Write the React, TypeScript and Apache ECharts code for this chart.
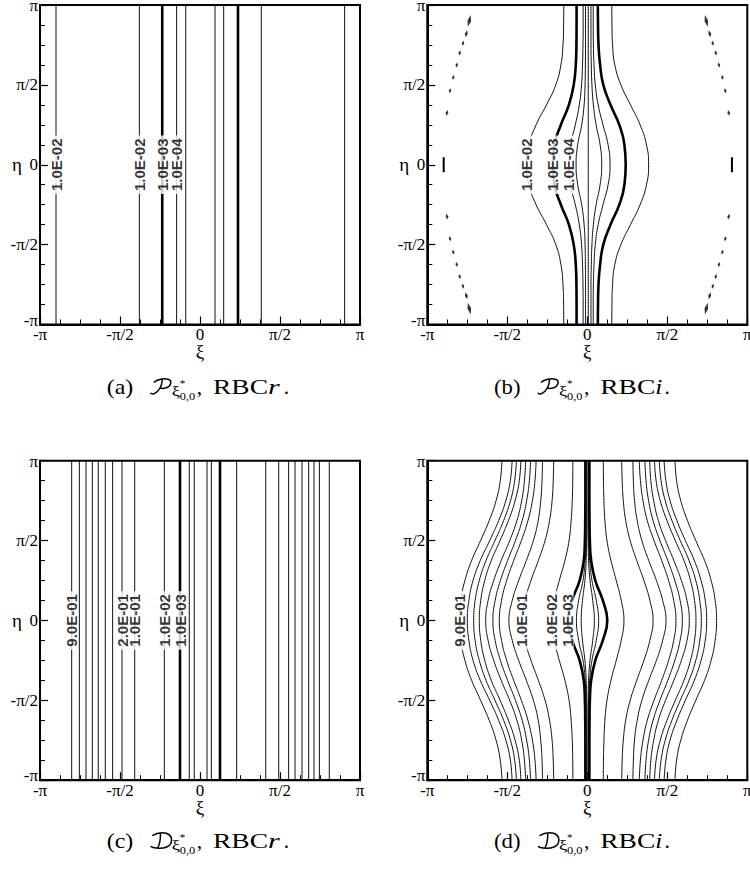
import React, { useEffect, useRef } from "react";
import * as echarts from "echarts";

// Axis ticks, in units of π, and their labels
const TICKS = [-1, -0.5, 0, 0.5, 1];
const TICK_TEXT = ["-π", "-π/2", "0", "π/2", "π"];

// (a) P, RBCr — straight iso-lines, ξ/π
const A_XI = [-0.9, -0.379, -0.236, -0.146, -0.089, 0.094, 0.148, 0.2375, 0.383, 0.904];
const A_LEVEL = ["1.0E-02", "1.0E-02", "1.0E-03", "1.0E-04", "1.0E-05", "1.0E-05", "1.0E-04", "1.0E-03", "1.0E-02", "1.0E-02"];
const A_LABELLED = [0, 1, 2, 3];

// (c) D, RBCr — straight iso-lines, ξ/π
const C_XI = [
  -0.802, -0.754, -0.7125, -0.673, -0.636, -0.592, -0.546, -0.4875, -0.408, -0.223, -0.125, -0.067, -0.036,
  0.044, 0.071, 0.125, 0.229, 0.411, 0.492, 0.554, 0.594, 0.6375, 0.679, 0.7125, 0.746, 0.808,
];
const C_LEVEL = [
  "9.0E-01", "8.0E-01", "7.0E-01", "6.0E-01", "5.0E-01", "4.0E-01", "3.0E-01", "2.0E-01", "1.0E-01", "1.0E-02", "1.0E-03", "1.0E-04", "1.0E-05",
  "1.0E-05", "1.0E-04", "1.0E-03", "1.0E-02", "1.0E-01", "2.0E-01", "3.0E-01", "4.0E-01", "5.0E-01", "6.0E-01", "7.0E-01", "8.0E-01", "9.0E-01",
];
const C_LABELLED = [0, 7, 8, 9, 10];

// Curved iso-lines are sampled at these η/π (upper half; the fields are even in η)
const ETA_HALF = [1, 0.875, 0.75, 0.625, 0.5, 0.375, 0.25, 0.125, 0];

// (b) P, RBCi — ξ/π of each contour at ETA_HALF
const B_XI = [
  [-0.147, -0.148, -0.152, -0.165, -0.197, -0.255, -0.32, -0.365, -0.38],
  [-0.067, -0.067, -0.068, -0.072, -0.085, -0.115, -0.165, -0.205, -0.215],
  [-0.026, -0.026, -0.027, -0.03, -0.036, -0.05, -0.075, -0.105, -0.115],
  [-0.011, -0.011, -0.011, -0.012, -0.014, -0.02, -0.035, -0.06, -0.07],
  [0.006, 0.006, 0.006, 0.006, 0.006, 0.006, 0.006, 0.006, 0.006],
  [0.023, 0.023, 0.023, 0.025, 0.029, 0.038, 0.055, 0.08, 0.09],
  [0.037, 0.037, 0.038, 0.042, 0.05, 0.068, 0.098, 0.13, 0.142],
  [0.066, 0.067, 0.07, 0.08, 0.1, 0.145, 0.2, 0.232, 0.24],
  [0.153, 0.154, 0.158, 0.172, 0.21, 0.27, 0.33, 0.37, 0.383],
];
const B_LEVEL = ["1.0E-02", "1.0E-03", "1.0E-04", "1.0E-05", "1.0E-06", "1.0E-05", "1.0E-04", "1.0E-03", "1.0E-02"];
const B_LABELLED = [0, 1, 2];

// (b) short dashed contour pieces near ξ = ±0.8π (upper half: centres and half-lengths, η/π)
const B_DASH_ETA = [0.9, 0.82, 0.76, 0.7, 0.624, 0.547, 0.463, 0.325];
const B_DASH_XI_LEFT = [-0.7375, -0.756, -0.777, -0.7975, -0.816, -0.8375, -0.858, -0.877];
const B_DASH_XI_RIGHT = [0.744, 0.765, 0.784, 0.803, 0.823, 0.844, 0.8625, 0.884];
const B_DASH_HALF = [0.038, 0.022, 0.016, 0.016, 0.016, 0.016, 0.016, 0.019];
const B_BAR_XI = [-0.8975, 0.904];
const B_BAR_HALF = 0.047;

// (d) D, RBCi — ξ/π of each contour at ETA_HALF
const D_XI = [
  [-0.533, -0.544, -0.57, -0.613, -0.667, -0.723, -0.765, -0.791, -0.8],
  [-0.47, -0.481, -0.509, -0.554, -0.61, -0.669, -0.714, -0.74, -0.75],
  [-0.443, -0.454, -0.48, -0.523, -0.577, -0.633, -0.675, -0.701, -0.71],
  [-0.415, -0.425, -0.451, -0.493, -0.545, -0.6, -0.641, -0.666, -0.675],
  [-0.385, -0.393, -0.41, -0.44, -0.485, -0.538, -0.585, -0.62, -0.635],
  [-0.355, -0.362, -0.379, -0.407, -0.449, -0.498, -0.543, -0.576, -0.59],
  [-0.32, -0.327, -0.343, -0.371, -0.412, -0.46, -0.504, -0.536, -0.55],
  [-0.28, -0.283, -0.291, -0.307, -0.337, -0.381, -0.429, -0.469, -0.49],
  [-0.21, -0.213, -0.22, -0.236, -0.264, -0.306, -0.352, -0.39, -0.41],
  [-0.09, -0.091, -0.094, -0.101, -0.114, -0.14, -0.175, -0.207, -0.225],
  [-0.012, -0.012, -0.012, -0.013, -0.015, -0.022, -0.048, -0.095, -0.1225],
  [-0.007, -0.007, -0.007, -0.007, -0.008, -0.013, -0.027, -0.054, -0.068],
  [-0.003, -0.003, -0.003, -0.003, -0.004, -0.007, -0.015, -0.03, -0.038],
  [0.004, 0.004, 0.004, 0.004, 0.005, 0.008, 0.017, 0.034, 0.044],
  [0.008, 0.008, 0.008, 0.008, 0.009, 0.015, 0.029, 0.056, 0.071],
  [0.013, 0.013, 0.013, 0.014, 0.016, 0.024, 0.05, 0.097, 0.125],
  [0.1, 0.101, 0.104, 0.11, 0.123, 0.148, 0.181, 0.212, 0.229],
  [0.215, 0.218, 0.225, 0.24, 0.268, 0.309, 0.354, 0.391, 0.411],
  [0.285, 0.288, 0.295, 0.312, 0.341, 0.384, 0.432, 0.471, 0.492],
  [0.325, 0.332, 0.348, 0.375, 0.417, 0.465, 0.508, 0.54, 0.554],
  [0.36, 0.367, 0.383, 0.411, 0.454, 0.503, 0.547, 0.58, 0.594],
  [0.39, 0.397, 0.415, 0.444, 0.489, 0.541, 0.588, 0.623, 0.6375],
  [0.42, 0.43, 0.456, 0.498, 0.55, 0.604, 0.645, 0.67, 0.679],
  [0.45, 0.461, 0.487, 0.529, 0.581, 0.636, 0.678, 0.703, 0.7125],
  [0.48, 0.491, 0.517, 0.56, 0.613, 0.669, 0.711, 0.737, 0.746],
  [0.548, 0.558, 0.584, 0.626, 0.678, 0.733, 0.774, 0.799, 0.808],
];
const D_LEVEL = [
  "9.0E-01", "8.0E-01", "7.0E-01", "6.0E-01", "5.0E-01", "4.0E-01", "3.0E-01", "2.0E-01", "1.0E-01", "1.0E-02", "1.0E-03", "1.0E-04", "1.0E-05",
  "1.0E-05", "1.0E-04", "1.0E-03", "1.0E-02", "1.0E-01", "2.0E-01", "3.0E-01", "4.0E-01", "5.0E-01", "6.0E-01", "7.0E-01", "8.0E-01", "9.0E-01",
];
const D_LABELLED = [0, 8, 9, 10];

// Sub-figure captions
const CAPTION_TAG = ["(a)", "(b)", "(c)", "(d)"];
const CAPTION_OP = ["P", "P", "D", "D"];
const CAPTION_RBC = ["r", "i", "r", "i"];

const SERIF = "'Liberation Serif', 'Times New Roman', serif";
const SANS = "'Liberation Sans', Arial, sans-serif";
const THICK_LEVEL = "1.0E-03";

// Calligraphic operator letters
echarts.graphic.registerShape(
  "calP",
  echarts.graphic.extendPath(
    "M4 4.5C7.5 1.2 14 0.2 18.5 1.3C22.5 2.4 21.8 8 16.5 9.8C13.8 10.7 11.2 10.5 9.6 9.6M12.6 1.8C12.2 7 10.2 12.6 5 15.4C3.4 16.3 1.4 16.1 0.8 14.8",
    {}
  )
);
echarts.graphic.registerShape(
  "calD",
  echarts.graphic.extendPath(
    "M2.5 3.6C6.5 1.2 12.5 0.2 16.6 1.2C21.6 2.6 23 7.6 21.2 11.4C19 15.6 12.6 16.6 6.4 16.1C3.8 15.9 1.8 15.1 1.2 14.1M10.8 1.6C10.8 7 10.2 12 8 16",
    {}
  )
);

const GRIDS = [
  { left: 40, top: 5, width: 320, height: 319.5 },
  { left: 427.3, top: 5, width: 320, height: 319.5 },
  { left: 40, top: 460.7, width: 320, height: 319.5 },
  { left: 427.3, top: 460.7, width: 320, height: 319.5 },
];
const CAPTION_BASE = [394, 394, 848, 848];

function tickIndex(v: number) {
  return TICKS.findIndex((t) => Math.abs(t - v) < 1e-6);
}
function xTickText(v: number) {
  const i = tickIndex(v);
  return i >= 0 ? TICK_TEXT[i] : "";
}
function yTickText(v: number) {
  const i = tickIndex(v);
  if (i < 0) return "";
  // end labels are nudged inwards: the bottom one clears the ξ-axis labels,
  // the top one stays inside the page
  if (i === 0) return `{lo|${TICK_TEXT[i]}}`;
  if (i === TICKS.length - 1) return `{hi|${TICK_TEXT[i]}}`;
  return TICK_TEXT[i];
}

function fullCurve(vals: number[]) {
  const pts: number[][] = ETA_HALF.map((e, i) => [vals[i], e]);
  for (let i = ETA_HALF.length - 2; i >= 0; i--) pts.push([vals[i], -ETA_HALF[i]]);
  return pts;
}

function lineSeries(k: number, data: number[][], level: string, smooth: number | boolean) {
  const thick = level === THICK_LEVEL;
  return {
    type: "line",
    xAxisIndex: k,
    yAxisIndex: k,
    data,
    symbol: "none",
    smooth,
    silent: true,
    lineStyle: { color: thick ? "#000" : "#111", width: thick ? 2.6 : 1 },
    z: 3,
  };
}

function labelSeries(k: number, items: { xi: number; eta: number; text: string }[]) {
  return {
    type: "scatter",
    xAxisIndex: k,
    yAxisIndex: k,
    data: items.map((d) => ({ value: [d.xi, d.eta], name: d.text })),
    symbolSize: 1,
    silent: true,
    itemStyle: { color: "rgba(0,0,0,0)" },
    z: 10,
    label: {
      show: true,
      position: "inside",
      rotate: 90,
      formatter: "{b}",
      fontFamily: SANS,
      fontWeight: "bold",
      fontSize: 15,
      lineHeight: 12,
      color: "#000",
      backgroundColor: "#fff",
      padding: [0, 3],
    },
  };
}

function captionElements(ctx: CanvasRenderingContext2D, cx: number, by: number, tag: string, op: string, rbc: string) {
  const els: any[] = [];
  const txt = (text: string, left: number, base: number, size: number, italic: boolean, width?: number) => {
    const font = `${italic ? "italic " : ""}${size}px ${SERIF}`;
    let sx = 1;
    if (width) {
      ctx.font = font;
      const w = ctx.measureText(text).width;
      if (w > 0) sx = Math.min(1.4, Math.max(0.8, width / w));
    }
    els.push({
      type: "text",
      x: left,
      y: base - 0.34 * size,
      scaleX: sx,
      silent: true,
      style: {
        text,
        fontFamily: SERIF,
        fontSize: size,
        fontStyle: italic ? "italic" : "normal",
        fill: "#000",
        align: "left",
        verticalAlign: "middle",
        textAlign: "left",
        textVerticalAlign: "middle",
      },
    });
  };
  txt(tag, cx - 92.5, by, 21.5, false, 26.6);
  els.push({
    type: op === "P" ? "calP" : "calD",
    x: cx - 49.5,
    y: by - 16,
    silent: true,
    style: { fill: "none", stroke: "#000", lineWidth: 1.5 },
  });
  txt("ξ", cx - 27.5, by + 2, 15, false, 8.3);
  txt("*", cx - 19.5, by - 7, 11, false);
  txt("0,0", cx - 19.5, by + 6, 10.5, false, 15.5);
  txt(",", cx - 2.5, by, 21.5, false);
  txt("RBC", cx + 13.8, by, 21.5, false, 55);
  txt(rbc, cx + 68.8, by, 21.5, true, rbc === "r" ? 12.5 : 7);
  txt(".", cx + (rbc === "r" ? 84.5 : 78), by, 21.5, false);
  return els;
}

function buildOption() {
  const xAxis = GRIDS.map((_, k) => ({
    type: "value",
    gridIndex: k,
    min: -1,
    max: 1,
    interval: 0.5,
    axisLine: { show: true, onZero: false, lineStyle: { color: "#000", width: 2 } },
    axisTick: { show: true, inside: true, length: 8, lineStyle: { color: "#000", width: 1.2 } },
    minorTick: { show: true, splitNumber: 4, length: 5, lineStyle: { color: "#000", width: 1 } },
    splitLine: { show: false },
    minorSplitLine: { show: false },
    axisLabel: { formatter: xTickText, color: "#000", fontFamily: SERIF, fontSize: 17, lineHeight: 14, margin: 3 },
    name: "ξ",
    nameLocation: "middle",
    nameGap: 19,
    nameMoveOverlap: false,
    nameTextStyle: { color: "#000", fontFamily: SERIF, fontSize: 19, lineHeight: 16 },
  }));
  const yAxis = GRIDS.map((_, k) => ({
    type: "value",
    gridIndex: k,
    min: -1,
    max: 1,
    interval: 0.5,
    axisLine: { show: true, onZero: false, lineStyle: { color: "#000", width: 2 } },
    axisTick: { show: true, inside: true, length: 8, lineStyle: { color: "#000", width: 1.2 } },
    minorTick: { show: true, splitNumber: 4, length: 5, lineStyle: { color: "#000", width: 1 } },
    splitLine: { show: false },
    minorSplitLine: { show: false },
    axisLabel: {
      formatter: yTickText,
      color: "#000",
      fontFamily: SERIF,
      fontSize: 17,
      margin: 2,
      rich: {
        lo: { fontFamily: SERIF, fontSize: 17, color: "#000", padding: [0, 0, 9, 0] },
        hi: { fontFamily: SERIF, fontSize: 17, color: "#000", lineHeight: 10, padding: [1, 0, 0, 0] },
      },
    },
    name: "η",
    nameLocation: "middle",
    nameRotate: 0,
    nameGap: 18,
    nameMoveOverlap: false,
    nameTextStyle: { color: "#000", fontFamily: SERIF, fontSize: 19 },
  }));

  const series: any[] = [];
  const last = ETA_HALF.length - 1;

  // (a)
  A_XI.forEach((xi, i) => series.push(lineSeries(0, [[xi, -1], [xi, 1]], A_LEVEL[i], false)));
  series.push(labelSeries(0, A_LABELLED.map((i) => ({ xi: A_XI[i], eta: 0, text: A_LEVEL[i] }))));

  // (b)
  B_XI.forEach((vals, i) => series.push(lineSeries(1, fullCurve(vals), B_LEVEL[i], 0.5)));
  series.push(labelSeries(1, B_LABELLED.map((i) => ({ xi: B_XI[i][last], eta: ETA_HALF[last], text: B_LEVEL[i] }))));

  // (b) dashed pieces, drawn as thin lens marks along the direction of their row
  const pxPerUnit = GRIDS[1].height / 2;
  const dashItems: any[] = [];
  [B_DASH_XI_LEFT, B_DASH_XI_RIGHT].forEach((row) => {
    const n = row.length - 1;
    const slope = (row[n] - row[0]) / (B_DASH_ETA[n] - B_DASH_ETA[0]);
    row.forEach((xc, i) => {
      [1, -1].forEach((sgn) => {
        const tilt = (-Math.atan(sgn * slope) * 180) / Math.PI;
        dashItems.push({
          value: [xc, sgn * B_DASH_ETA[i]],
          symbolSize: [i === 0 ? 3.6 : i === 1 ? 3 : 2.6, 2 * B_DASH_HALF[i] * pxPerUnit],
          symbolRotate: tilt,
        });
      });
    });
  });
  series.push({
    type: "scatter",
    xAxisIndex: 1,
    yAxisIndex: 1,
    data: dashItems,
    symbol: "diamond",
    silent: true,
    itemStyle: { color: "#000" },
    z: 3,
  });
  B_BAR_XI.forEach((xb) =>
    series.push({
      type: "line",
      xAxisIndex: 1,
      yAxisIndex: 1,
      data: [
        [xb, -B_BAR_HALF],
        [xb, B_BAR_HALF],
      ],
      symbol: "none",
      silent: true,
      lineStyle: { color: "#000", width: 2 },
      z: 3,
    })
  );

  // (c)
  C_XI.forEach((xi, i) => series.push(lineSeries(2, [[xi, -1], [xi, 1]], C_LEVEL[i], false)));
  series.push(labelSeries(2, C_LABELLED.map((i) => ({ xi: C_XI[i], eta: 0, text: C_LEVEL[i] }))));

  // (d)
  D_XI.forEach((vals, i) => series.push(lineSeries(3, fullCurve(vals), D_LEVEL[i], 0.45)));
  series.push(labelSeries(3, D_LABELLED.map((i) => ({ xi: D_XI[i][last], eta: ETA_HALF[last], text: D_LEVEL[i] }))));

  // captions
  const ctx = document.createElement("canvas").getContext("2d") as CanvasRenderingContext2D;
  const graphic: any[] = [];
  GRIDS.forEach((g, k) => {
    const cx = g.left + g.width / 2 - 0.8;
    graphic.push(...captionElements(ctx, cx, CAPTION_BASE[k], CAPTION_TAG[k], CAPTION_OP[k], CAPTION_RBC[k]));
  });

  return {
    animation: false,
    backgroundColor: "#fff",
    grid: GRIDS.map((g) => ({
      ...g,
      show: true,
      borderColor: "#000",
      borderWidth: 2,
      backgroundColor: "transparent",
      containLabel: false,
      outerBoundsMode: "none",
    })),
    xAxis,
    yAxis,
    series,
    graphic,
  };
}

export default function App() {
  const ref = useRef<HTMLDivElement>(null);
  useEffect(() => {
    document.body.style.margin = "0";
    if (!ref.current) return;
    const chart = echarts.init(ref.current, undefined, { renderer: "svg" });
    chart.setOption(buildOption() as any);
    return () => chart.dispose();
  }, []);
  return <div ref={ref} style={{ width: 750, height: 873 }} />;
}
